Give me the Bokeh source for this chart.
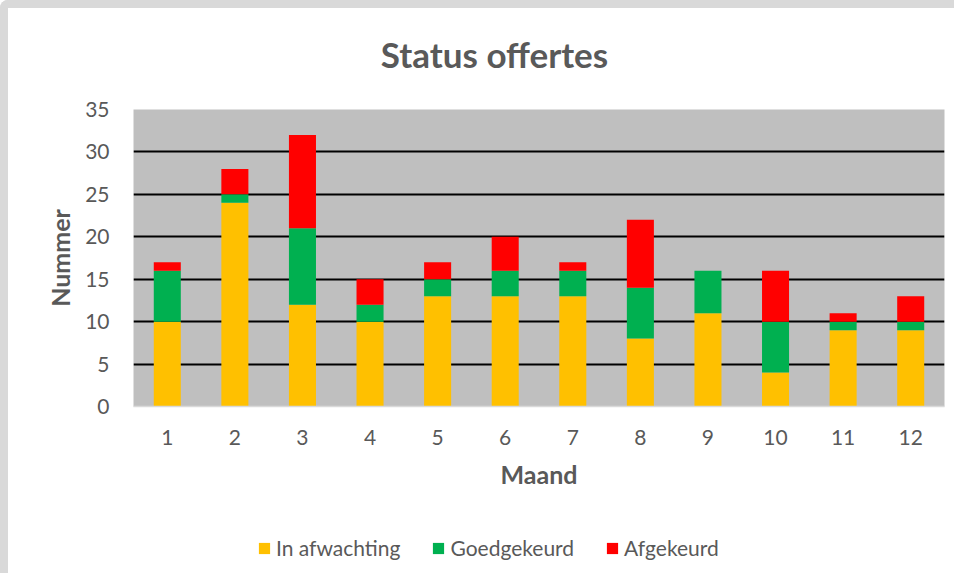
from bokeh.plotting import figure
from bokeh.layouts import column
from bokeh.models import FactorRange, Range1d, FixedTicker, Legend, LegendItem, Label
from bokeh.embed import file_html
from bokeh.resources import INLINE

months = [str(i) for i in range(1, 13)]
in_afwachting = [10, 24, 12, 10, 13, 13, 13, 8, 11, 4, 9, 9]
goedgekeurd = [6, 1, 9, 2, 2, 3, 3, 6, 5, 6, 1, 1]
afgekeurd = [1, 3, 11, 3, 2, 4, 1, 8, 0, 6, 1, 3]
series = ["In afwachting", "Goedgekeurd", "Afgekeurd"]
colors = ["#FFC000", "#00B050", "#FF0000"]
y_ticks = [0, 5, 10, 15, 20, 25, 30, 35]
title_text = "Status offertes"

FONT = "Lato"
TXT = "#595959"

data = {"maand": months, "In afwachting": in_afwachting,
        "Goedgekeurd": goedgekeurd, "Afgekeurd": afgekeurd}

W = 946
H_TITLE = 85
H_MAIN = 415
H_LEG = 65
ML, MR = 125, 10


def strip(height, x_range, y_range):
    f = figure(width=W, height=height, output_backend="svg", toolbar_location=None,
               x_axis_type=None, y_axis_type=None, x_range=x_range, y_range=y_range,
               min_border_left=ML, min_border_right=MR, min_border_top=0,
               min_border_bottom=0)
    f.outline_line_color = None
    f.background_fill_color = "white"
    f.border_fill_color = "white"
    f.xgrid.grid_line_color = None
    f.ygrid.grid_line_color = None
    return f


# title strip: ranges expressed in page pixels so the label sits where the title was
tf = strip(H_TITLE, Range1d(ML + 8, W - MR + 8), Range1d(H_TITLE + 8, 8))
tf.add_layout(Label(x=494, y=53, text=title_text, text_align="center",
                    text_baseline="middle", text_font=FONT, text_font_size="35px",
                    text_font_style="bold", text_color=TXT))

# main chart
p = figure(x_range=FactorRange(*months, range_padding=0), y_range=Range1d(0, 35),
           width=W, height=H_MAIN, output_backend="svg", toolbar_location=None,
           min_border_left=ML, min_border_right=MR, min_border_top=16,
           min_border_bottom=102)

p.vbar_stack(series, x="maand", width=0.4, color=colors, source=data, line_width=0)

p.background_fill_color = "#BFBFBF"
p.border_fill_color = "white"
p.outline_line_color = None

p.xgrid.grid_line_color = None
p.ygrid.ticker = FixedTicker(ticks=y_ticks[1:])
p.ygrid.grid_line_color = "black"
p.ygrid.grid_line_width = 2

p.yaxis.ticker = FixedTicker(ticks=y_ticks)
p.yaxis.axis_line_color = None
p.yaxis.major_tick_line_color = None
p.yaxis.minor_tick_line_color = None
p.yaxis.major_label_standoff = 18
p.yaxis.axis_label = "Nummer"
p.yaxis.axis_label_standoff = 7

p.xaxis.axis_line_color = "#D9D9D9"
p.xaxis.axis_line_width = 1.5
p.xaxis.major_tick_line_color = None
p.xaxis.major_label_standoff = 17
p.xaxis.axis_label = "Maand"
p.xaxis.axis_label_standoff = 11

for ax in (p.xaxis, p.yaxis):
    ax.major_label_text_font = FONT
    ax.major_label_text_font_size = "21px"
    ax.major_label_text_color = TXT
    ax.axis_label_text_font = FONT
    ax.axis_label_text_font_size = "25px"
    ax.axis_label_text_font_style = "bold"
    ax.axis_label_text_color = TXT

# legend strip: same bars, drawn out of view, only to give the legend its swatches
lg = strip(H_LEG, FactorRange(*months, range_padding=0), Range1d(100, 101))
leg_renderers = lg.vbar_stack(series, x="maand", width=0.4, color=colors, source=data,
                              line_width=0)
legend = Legend(items=[LegendItem(label=s, renderers=[r]) for s, r in zip(series, leg_renderers)],
                orientation="horizontal", location=(124, 13),
                glyph_width=14, glyph_height=14, label_standoff=5, spacing=31,
                padding=0, margin=0, border_line_color=None, background_fill_alpha=0,
                label_text_font=FONT, label_text_font_size="21px", label_text_color=TXT)
lg.add_layout(legend, "center")

layout = column(tf, p, lg, spacing=0,
                styles={"border-top": "8px solid #d9d9d9", "border-left": "8px solid #d9d9d9",
                        "border-top-left-radius": "8px"})

open("out.html", "w").write(file_html(layout, INLINE))
